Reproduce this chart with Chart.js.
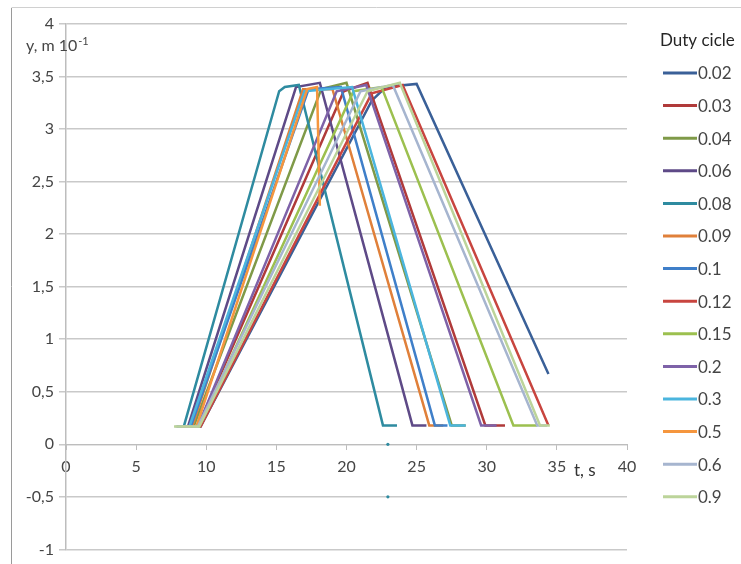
<!DOCTYPE html>
<html>
<head>
<meta charset="utf-8">
<script src="https://cdn.jsdelivr.net/npm/chart.js@4.4.0/dist/chart.umd.min.js"></script>
<style>
  html, body { margin: 0; padding: 0; background: #fff; }
  #wrap { width: 741px; height: 564px; position: relative; }
</style>
</head>
<body>
<div id="wrap"><canvas id="chart"></canvas></div>
<script>
// Duty cycle of each curve (legend order)
const dutyLabels = ['0.02', '0.03', '0.04', '0.06', '0.08', '0.09', '0.1', '0.12', '0.15', '0.2', '0.3', '0.5', '0.6', '0.9'];
const lineColors = ['#3a6098', '#b03a3a', '#7f9a48', '#5e4a87', '#2e8ba0', '#e0803a', '#3f7fc9',
                    '#c8453f', '#9cc04f', '#7e62a8', '#4bb5de', '#f5963e', '#a6b5cf', '#bcd49a'];

// t, s  /  y, m 10^-1
const t_002 = [8.5, 9.6, 21.8, 22.8, 25.0, 34.4];
const y_002 = [0.17, 0.17, 3.27, 3.40, 3.43, 0.67];
const t_003 = [8.3, 9.4, 19.8, 21.5, 29.9, 31.3];
const y_003 = [0.17, 0.17, 3.36, 3.44, 0.18, 0.18];
const t_004 = [8.1, 9.1, 18.2, 20.0, 27.5, 28.5];
const y_004 = [0.17, 0.17, 3.38, 3.44, 0.18, 0.18];
const t_006 = [8.0, 8.7, 16.4, 18.1, 24.7, 25.7];
const y_006 = [0.17, 0.17, 3.40, 3.44, 0.18, 0.18];
const t_008 = [7.9, 8.4, 15.2, 15.6, 16.6, 22.6, 23.6];
const y_008 = [0.17, 0.17, 3.36, 3.40, 3.42, 0.18, 0.18];
const t_009 = [8.0, 9.0, 16.9, 19.0, 25.9, 26.9];
const y_009 = [0.17, 0.17, 3.38, 3.38, 0.18, 0.18];
const t_01 = [8.1, 8.9, 17.3, 19.6, 26.3, 27.2];
const y_01 = [0.17, 0.17, 3.38, 3.40, 0.18, 0.18];
const t_012 = [8.4, 9.6, 21.8, 24.0, 34.4];
const y_012 = [0.17, 0.17, 3.34, 3.42, 0.18];
const t_015 = [8.3, 9.5, 20.5, 22.5, 31.9, 33.6];
const y_015 = [0.17, 0.17, 3.36, 3.40, 0.18, 0.18];
const t_02 = [8.3, 9.4, 19.3, 21.4, 29.6, 30.7];
const y_02 = [0.17, 0.17, 3.36, 3.42, 0.18, 0.18];
const t_03 = [8.0, 8.8, 17.0, 20.4, 27.4, 28.5];
const y_03 = [0.17, 0.17, 3.36, 3.40, 0.18, 0.18];
const t_05 = [8.2, 9.3, 17.2, 17.9, 18.1];
const y_05 = [0.17, 0.17, 3.38, 3.40, 2.27];
const t_06 = [7.8, 9.4, 21.0, 23.3, 33.6, 34.3];
const y_06 = [0.17, 0.17, 3.36, 3.42, 0.18, 0.18];
const t_09 = [7.7, 9.5, 21.5, 23.8, 33.8, 34.5];
const y_09 = [0.17, 0.17, 3.36, 3.44, 0.18, 0.18];

// two stray markers of the 0.08 run
const t_dots = [22.95, 22.95];
const y_dots = [0, -0.5];

const xTicks = [0, 5, 10, 15, 20, 25, 30, 35, 40];

const seriesT = [t_002, t_003, t_004, t_006, t_008, t_009, t_01, t_012, t_015, t_02, t_03, t_05, t_06, t_09];
const seriesY = [y_002, y_003, y_004, y_006, y_008, y_009, y_01, y_012, y_015, y_02, y_03, y_05, y_06, y_09];

const toPoints = (ts, ys) => ts.map((t, i) => ({ x: t, y: ys[i] }));

const datasets = dutyLabels.map((lab, i) => ({
  label: lab,
  data: toPoints(seriesT[i], seriesY[i]),
  showLine: true,
  borderColor: lineColors[i],
  backgroundColor: lineColors[i],
  borderWidth: 2.5,
  pointRadius: 0,
  order: dutyLabels.length - i
}));
datasets.push({
  label: 'dots',
  data: toPoints(t_dots, y_dots),
  showLine: false,
  pointRadius: 1.6,
  pointBackgroundColor: '#2e8ba0',
  pointBorderWidth: 0,
  order: 0
});

const FONT = 'Lato';
const TEXT = '#454545';

// frame, axis titles and the legend
const decor = {
  id: 'decor',
  afterDraw(chart) {
    const ctx = chart.ctx;
    ctx.save();
    // outer frame
    ctx.strokeStyle = '#d0d0d0';
    ctx.lineWidth = 1;
    ctx.beginPath();
    ctx.moveTo(11.5, 7.5);
    ctx.lineTo(745, 7.5);
    ctx.stroke();
    ctx.strokeStyle = '#9a9a9a';
    ctx.beginPath();
    ctx.moveTo(11.5, 570);
    ctx.lineTo(11.5, 8);
    ctx.stroke();

    // y title with superscript
    ctx.fillStyle = TEXT;
    ctx.textBaseline = 'alphabetic';
    ctx.textAlign = 'left';
    ctx.font = '16px ' + FONT;
    ctx.fillText('y, m 10', 26, 51);
    const w = ctx.measureText('y, m 10').width;
    ctx.font = '11px ' + FONT;
    ctx.fillText('-1', 26 + w + 1, 45);

    // x title
    ctx.font = '17px ' + FONT;
    ctx.fillStyle = '#333';
    ctx.textBaseline = 'middle';
    ctx.fillText('t, s', 574, 471);

    // legend
    ctx.font = '17px ' + FONT;
    ctx.fillStyle = '#262626';
    ctx.fillText('Duty cicle', 660, 41);
    dutyLabels.forEach((lab, i) => {
      const y = 73 + i * 32.6;
      ctx.strokeStyle = lineColors[i];
      ctx.lineWidth = 3;
      ctx.beginPath();
      ctx.moveTo(663, y);
      ctx.lineTo(697, y);
      ctx.stroke();
      ctx.fillStyle = TEXT;
      ctx.fillText(lab, 698, y + 1);
    });
    ctx.restore();
  }
};

new Chart(document.getElementById('chart'), {
  type: 'scatter',
  data: { datasets },
  plugins: [decor],
  options: {
    responsive: true,
    maintainAspectRatio: false,
    animation: false,
    layout: { padding: { left: 10, top: 24, right: 114, bottom: 14 } },
    plugins: { legend: { display: false }, tooltip: { enabled: false } },
    scales: {
      x: {
        type: 'linear',
        position: { y: 0 },
        min: 0,
        max: 40,
        afterBuildTicks: s => { s.ticks = xTicks.map(v => ({ value: v })); },
        grid: { drawOnChartArea: false, drawTicks: true, tickLength: 5, color: '#bdbdbd', lineWidth: 1 },
        border: { display: true, color: '#bdbdbd', width: 1 },
        ticks: { color: TEXT, font: { family: FONT, size: 16 }, padding: 8, maxRotation: 0 }
      },
      y: {
        type: 'linear',
        min: -1,
        max: 4,
        afterFit: s => { s.width = 56; },
        grid: { color: '#c9c9c9', lineWidth: 1.5, tickLength: 7 },
        border: { display: true, color: '#bdbdbd', width: 1.5 },
        ticks: {
          stepSize: 0.5,
          color: TEXT,
          font: { family: FONT, size: 16 },
          padding: 5,
          callback: v => String(v).replace('.', ',')
        }
      }
    }
  }
});
</script>
</body>
</html>
